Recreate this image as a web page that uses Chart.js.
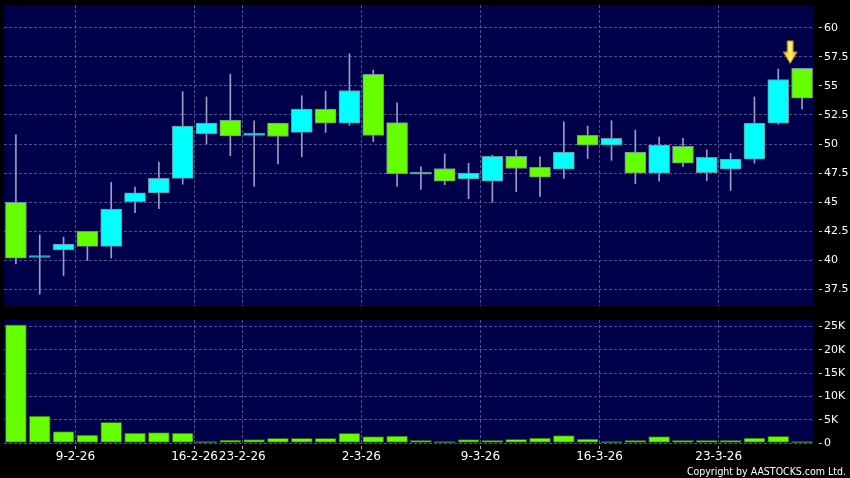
<!DOCTYPE html>
<html>
<head>
<meta charset="utf-8">
<script src="https://cdn.jsdelivr.net/npm/chart.js@4.4.1/dist/chart.umd.min.js"></script>
<style>
  html, body { margin: 0; padding: 0; background: #000; }
  #wrap { position: relative; width: 850px; height: 478px; overflow: hidden; }
  #price { position: absolute; left: 0; top: 0; }
  #volume { position: absolute; left: 0; top: 312px; }
  #copy {
    position: absolute; right: 4px; top: 465px;
    font-family: "DejaVu Sans Condensed", "DejaVu Sans", sans-serif; font-stretch: condensed;
    font-size: 10.5px; line-height: 13px; color: #fff; white-space: nowrap;
  }
</style>
</head>
<body>
<div id="wrap">
  <canvas id="price" width="850" height="312"></canvas>
  <canvas id="volume" width="850" height="166"></canvas>
  <div id="copy">Copyright by AASTOCKS.com Ltd.</div>
</div>
<script>
const dates = [
  "4-2-26", "5-2-26", "6-2-26",
  "9-2-26", "10-2-26", "11-2-26", "12-2-26", "13-2-26",
  "16-2-26", "20-2-26",
  "23-2-26", "24-2-26", "25-2-26", "26-2-26", "27-2-26",
  "2-3-26", "3-3-26", "4-3-26", "5-3-26", "6-3-26",
  "9-3-26", "10-3-26", "11-3-26", "12-3-26", "13-3-26",
  "16-3-26", "17-3-26", "18-3-26", "19-3-26", "20-3-26",
  "23-3-26", "24-3-26", "25-3-26", "26-3-26"
];
const opens = [45.0, 40.25, 40.9, 42.5, 41.2, 45.05, 45.8, 47.05, 50.9, 52.05, 50.75, 51.8, 51.0, 53.0, 51.8, 56.0, 51.85,
  47.4, 47.9, 47.0, 46.8, 48.95, 48.0, 47.85, 50.75, 49.9, 49.3, 47.5, 49.8, 47.55, 47.85, 48.7, 51.8, 56.5];
const highs = [50.8, 42.2, 42.0, 42.5, 46.7, 46.3, 48.45, 54.5, 54.05, 56.0, 52.0, 51.8, 54.15, 54.55, 57.75, 56.35, 53.55,
  48.05, 49.15, 48.35, 49.05, 49.5, 48.9, 51.9, 51.55, 52.0, 51.2, 50.6, 50.5, 49.5, 49.2, 54.05, 56.45, 56.5];
const lows = [39.7, 37.1, 38.7, 40.0, 40.2, 44.1, 44.45, 46.55, 50.0, 49.0, 46.35, 48.3, 48.9, 51.0, 51.6, 50.2, 46.35,
  46.1, 46.5, 45.3, 45.0, 45.9, 45.5, 47.05, 48.75, 48.6, 46.6, 46.8, 48.05, 46.85, 46.0, 48.35, 51.7, 53.0];
const closes = [40.2, 40.35, 41.4, 41.2, 44.4, 45.8, 47.05, 51.55, 51.8, 50.7, 50.75, 50.65, 53.0, 51.8, 54.6, 50.75, 47.45,
  47.4, 46.8, 47.5, 48.95, 47.9, 47.15, 49.3, 49.9, 50.5, 47.5, 49.9, 48.35, 48.85, 48.7, 51.8, 55.55, 53.95];
const volumes = [25360, 5790, 2430, 1710, 4430, 2140, 2210, 2140, 290, 640, 710, 1000, 1000, 1000, 2070, 1360, 1500,
  570, 290, 710, 570, 790, 1070, 1570, 860, 290, 570, 1360, 570, 570, 570, 1070, 1430, 290];

const tickDates = ["9-2-26", "16-2-26", "23-2-26", "2-3-26", "9-3-26", "16-3-26", "23-3-26"];
const priceTicks = [37.5, 40, 42.5, 45, 47.5, 50, 52.5, 55, 57.5, 60];
const volTicks = [0, 5000, 10000, 15000, 20000, 25000];
const volTickLabels = ["0", "5K", "10K", "15K", "20K", "25K"];

const navy = "#00004a";
const gridColor = "#50508c";
const upColor = "#00ffff";
const downColor = "#66ff00";
const fontFamily = "DejaVu Sans";

const xTicks = tickDates.map((d) => dates.indexOf(d));

const panelBg = {
  id: "panelBg",
  beforeDraw(chart) {
    const { ctx, chartArea: a } = chart;
    ctx.save();
    ctx.fillStyle = navy;
    ctx.fillRect(a.left, a.top, a.right - a.left, a.bottom - a.top);
    ctx.restore();
  },
};

// yellow marker above the last candles
const lastArrow = {
  id: "lastArrow",
  afterDatasetsDraw(chart) {
    const { ctx, scales } = chart;
    const n = dates.length;
    const cx = scales.x.getPixelForValue(n - 1);
    const tip = scales.y.getPixelForValue(Math.max(highs[n - 1], highs[n - 2])) - 5;
    const top = tip - 22.5;
    const neck = tip - 11.5;
    const g = ctx.createLinearGradient(cx - 7, 0, cx + 7, 0);
    g.addColorStop(0, "#e8a800");
    g.addColorStop(0.5, "#fff47a");
    g.addColorStop(1, "#e8a800");
    ctx.save();
    ctx.beginPath();
    ctx.moveTo(cx - 3, top);
    ctx.lineTo(cx + 3, top);
    ctx.lineTo(cx + 3, neck);
    ctx.lineTo(cx + 7, neck);
    ctx.lineTo(cx, tip);
    ctx.lineTo(cx - 7, neck);
    ctx.lineTo(cx - 3, neck);
    ctx.closePath();
    ctx.fillStyle = g;
    ctx.fill();
    ctx.strokeStyle = "#b88000";
    ctx.lineWidth = 1;
    ctx.stroke();
    ctx.restore();
  },
};

function xAxis(showLabels) {
  return {
    type: "linear",
    min: 0,
    max: dates.length,
    offset: false,
    afterBuildTicks: (s) => {
      s.ticks = xTicks.map((v) => ({ value: v }));
    },
    afterFit: (s) => {
      s.height = showLabels ? 35 : 0;
      s.paddingLeft = 0;
      s.paddingRight = 0;
    },
    grid: {
      offset: false,
      color: gridColor,
      lineWidth: 1,
      drawTicks: showLabels,
      tickLength: 6,
      tickColor: "#b0b0b0",
      tickBorderDash: [0, 3, 3, 20],
    },
    border: { display: false, dash: [3, 2] },
    ticks: {
      display: showLabels,
      autoSkip: false,
      maxRotation: 0,
      padding: 1,
      color: "#ffffff",
      font: { family: fontFamily, size: 12 },
      callback: (v) => dates[v],
    },
  };
}

function yAxis(min, max, ticks, label) {
  return {
    position: "right",
    min: min,
    max: max,
    afterBuildTicks: (s) => {
      s.ticks = ticks.map((v) => ({ value: v }));
    },
    afterFit: (s) => {
      s.width = 36;
      s.paddingTop = 0;
      s.paddingBottom = 0;
    },
    grid: {
      color: gridColor,
      lineWidth: 1,
      tickLength: 8,
      tickColor: "#c8c8c8",
      tickBorderDash: [0, 5, 3, 20],
    },
    border: { display: false, dash: [3, 2] },
    ticks: {
      padding: 2,
      color: "#ffffff",
      font: { family: fontFamily, size: 11 },
      callback: label,
    },
  };
}

const bodyColors = opens.map((o, i) => (closes[i] >= o ? upColor : downColor));

new Chart(document.getElementById("price").getContext("2d"), {
  type: "bar",
  data: {
    datasets: [
      {
        label: "body",
        data: dates.map((d, i) => ({ x: i + 0.5, y: [opens[i], closes[i]] })),
        backgroundColor: bodyColors,
        borderColor: "#70909c",
        borderWidth: 1,
        borderSkipped: false,
        barThickness: 21,
        minBarLength: 2,
        grouped: false,
        order: 1,
      },
      {
        label: "wick",
        data: dates.map((d, i) => ({ x: i + 0.5, y: [lows[i], highs[i]] })),
        backgroundColor: "#9c9cc0",
        borderWidth: 0,
        barThickness: 1,
        grouped: false,
        order: 2,
      },
    ],
  },
  options: {
    responsive: false,
    animation: false,
    layout: { padding: { top: 5, left: 4, right: 0, bottom: 6 } },
    plugins: { legend: { display: false }, tooltip: { enabled: false } },
    scales: {
      x: xAxis(false),
      y: yAxis(36.08, 61.95, priceTicks, (v) => String(v)),
    },
  },
  plugins: [panelBg, lastArrow],
});

new Chart(document.getElementById("volume").getContext("2d"), {
  type: "bar",
  data: {
    datasets: [
      {
        label: "volume",
        data: dates.map((d, i) => ({ x: i + 0.5, y: volumes[i] })),
        backgroundColor: downColor,
        borderColor: "#2e6400",
        borderWidth: 1,
        borderSkipped: false,
        barThickness: 21,
      },
    ],
  },
  options: {
    responsive: false,
    animation: false,
    layout: { padding: { top: 8, left: 4, right: 0, bottom: 0 } },
    plugins: { legend: { display: false }, tooltip: { enabled: false } },
    scales: {
      x: xAxis(true),
      y: yAxis(0, 26400, volTicks, (v) => volTickLabels[volTicks.indexOf(v)]),
    },
  },
  plugins: [panelBg],
});
</script>
</body>
</html>
